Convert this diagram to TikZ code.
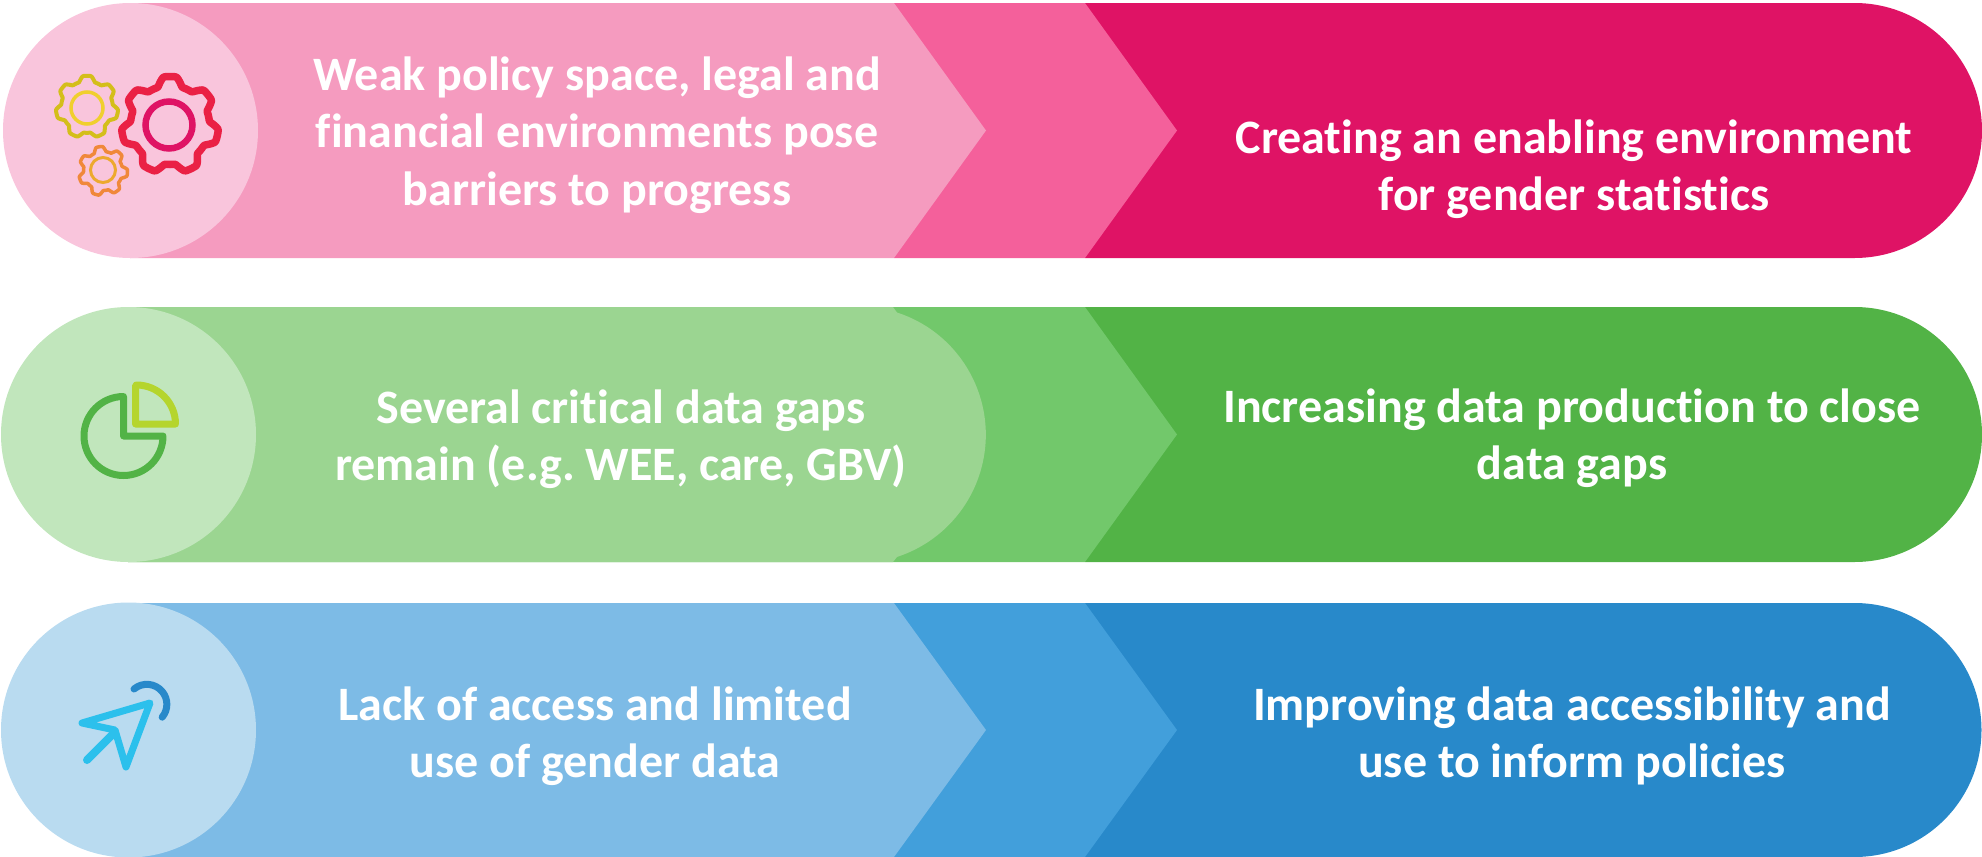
\documentclass[tikz,border=0pt]{standalone}
\usepackage{fontspec}
\setmainfont{Carlito}[Ligatures=NoCommon]
\frenchspacing
\definecolor{pA}{HTML}{F9C5DC}\definecolor{pB}{HTML}{F59BBF}\definecolor{pC}{HTML}{F4609B}\definecolor{pD}{HTML}{DF1365}
\definecolor{gA}{HTML}{C1E6BC}\definecolor{gB}{HTML}{9BD591}\definecolor{gC}{HTML}{72C86B}\definecolor{gD}{HTML}{52B346}
\definecolor{bA}{HTML}{B9DBF0}\definecolor{bB}{HTML}{7DBBE6}\definecolor{bC}{HTML}{429FDB}\definecolor{bD}{HTML}{2889CA}
\definecolor{gearY}{HTML}{D4BE1A}\definecolor{gearYb}{HTML}{F0CF2E}\definecolor{gearR}{HTML}{EA2145}
\definecolor{gearO}{HTML}{F0883A}\definecolor{gearOb}{HTML}{EDA92E}\definecolor{pieL}{HTML}{B5D52D}\definecolor{ptr}{HTML}{2CC0EC}
\tikzset{
 label/.style={text=white,align=center,font=\fontsize{48}{57.5}\selectfont\bfseries},
 icon/.style={line width=#1,line join=round,line cap=round},
}
\begin{document}
\begin{tikzpicture}[x=1pt,y=-1pt]
\useasboundingbox (0,0) rectangle (1982,857);
% row 1
\fill[pD] (1085,3) -- (1854.5,3) arc[start angle=-90,end angle=90,radius=127.5] -- (1085,258) -- cycle;
\fill[pC] (894,3) -- (1085,3) -- (1177,130.5) -- (1085,258) -- (894,258) -- cycle;
\fill[pB] (130,3) -- (894,3) -- (986,130.5) -- (894,258) -- (130,258) -- cycle;
\fill[pA] (130.5,130.5) circle[radius=127.5];
% row 2
\fill[gD] (1085,307) -- (1854.5,307) arc[start angle=-90,end angle=90,radius=127.5] -- (1085,562) -- cycle;
\fill[gC] (128,307) -- (1085,307) -- (1177,434.5) -- (1085,562) -- (128,562) -- cycle;
\fill[gB] (128,307) -- (893,307) -- (897,312.5) arc[start angle=-72,end angle=72,radius=128.5] -- (893,562) -- (128,562) -- cycle;
\fill[gA] (128.5,434.5) circle[radius=127.5];
% row 3
\fill[bD] (1085,603) -- (1854.5,603) arc[start angle=-90,end angle=90,radius=127] -- (1085,857) -- cycle;
\fill[bC] (894,603) -- (1085,603) -- (1177,730) -- (1085,857) -- (894,857) -- cycle;
\fill[bB] (128,603) -- (894,603) -- (986,730) -- (894,857) -- (128,857) -- cycle;
\fill[bA] (128.5,730) circle[radius=127.5];
% gears
\draw[icon=4pt,draw=gearY] plot[domain=0:360,samples=169] ({87+(28.5+2.7*max(min(1.7*sin(7*\x),1),-1))*cos(\x)},{107+(28.5+2.7*max(min(1.7*sin(7*\x),1),-1))*sin(\x)}) -- cycle;
\draw[line width=3.5pt,draw=gearYb] (87,108) circle[radius=16];
\draw[icon=7.5pt,draw=gearR] plot[domain=0:360,samples=169] ({170+(44+4.5*max(min(1.7*sin(7*\x),1),-1))*cos(\x)},{125+(44+4.5*max(min(1.7*sin(7*\x),1),-1))*sin(\x)}) -- cycle;
\draw[line width=6.5pt,draw=pD] (169,125) circle[radius=23.5];
\draw[icon=3.5pt,draw=gearO] plot[domain=0:360,samples=169] ({103+(22+2.5*max(min(1.7*sin(7*\x+60),1),-1))*cos(\x)},{171+(22+2.5*max(min(1.7*sin(7*\x+60),1),-1))*sin(\x)}) -- cycle;
\draw[line width=3pt,draw=gearOb] (103,170) circle[radius=12.5];
% pie
\draw[icon=7pt,draw=gD] (123.5,397) -- (123.5,436) -- (163,436) arc[start angle=0,end angle=270,radius=39.5] -- cycle;
\draw[icon=7pt,draw=pieL] (135.5,385.5) -- (135.5,424) -- (175.5,424) arc[start angle=0,end angle=-90,radius=39] -- cycle;
% pointer
\draw[icon=7pt,draw=ptr] (82,723) -- (150,703) -- (126,767) -- (115,730) -- cycle;
\draw[icon=8pt,draw=ptr] (115,732) -- (87,760);
\draw[icon=7pt,draw=bD] (134,689) arc[start angle=-130,end angle=40,radius=20];
% text
\node[label] (t1) at (597,135) {Weak policy space, legal and\\financial environments pose\\barriers to progress};
\node[label] (t2) at (1574,169) {Creating an enabling environment\\for gender statistics};
\node[label] (t3) at (621,439) {Several critical data gaps\\remain (e.g. WEE, care, GBV)};
\node[label] (t4) at (1572,438) {Increasing data production to close\\data gaps};
\node[label] (t5) at (595,736) {Lack of access and limited\\use of gender data};
\node[label] (t6) at (1572,736) {Improving data accessibility and\\use to inform policies};
\end{tikzpicture}
\end{document}
